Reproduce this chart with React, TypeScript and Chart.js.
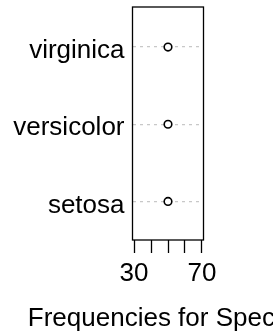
import { useEffect, useRef } from "react";
import { Chart, registerables } from "chart.js";

Chart.register(...registerables);

const categories = ["setosa", "versicolor", "virginica"];
const frequencies = [50, 50, 50];
const xTicks = [30, 40, 50, 60, 70];
const xTickLabels = ["30", "", "", "", "70"];
const xAxisTitle = "Frequencies for Species";

const FAMILY = "'Liberation Sans', Arial, Helvetica, sans-serif";
const FONT_SIZE = 26;

export default function App() {
  const ref = useRef<HTMLCanvasElement>(null);

  useEffect(() => {
    if (!ref.current) return;

    const boxPlugin = {
      id: "boxAndTitle",
      afterDraw(chart: any) {
        const { ctx, chartArea: a } = chart;
        ctx.save();
        ctx.strokeStyle = "#000";
        ctx.lineWidth = 1.3;
        ctx.strokeRect(a.left, a.top, a.right - a.left, a.bottom - a.top);
        ctx.font = `${FONT_SIZE}px ${FAMILY}`;
        ctx.fillStyle = "#000";
        ctx.textAlign = "center";
        ctx.textBaseline = "alphabetic";
        ctx.fillText(xAxisTitle, (a.left + a.right) / 2, a.bottom + 86);
        ctx.restore();
      },
    };

    const chart = new Chart(ref.current, {
      type: "scatter",
      data: {
        datasets: [
          {
            data: categories.map((c, i) => ({ x: frequencies[i], y: i + 1 })),
            pointRadius: 3.8,
            pointBorderWidth: 1.6,
            pointBorderColor: "#000",
            pointBackgroundColor: "#fff",
            showLine: false,
          },
        ],
      },
      options: {
        responsive: false,
        maintainAspectRatio: false,
        animation: false,
        devicePixelRatio: 1,
        layout: { padding: { left: 0, right: 69.5, top: 7, bottom: 0 } },
        plugins: {
          legend: { display: false },
          tooltip: { enabled: false },
        },
        scales: {
          x: {
            type: "linear",
            min: 29.1,
            max: 70.9,
            afterBuildTicks: (s: any) => {
              s.ticks = xTicks.map((v) => ({ value: v }));
            },
            afterFit: (s: any) => {
              s.height = 96;
              s.paddingLeft = 0;
              s.paddingRight = 0;
            },
            border: { display: false },
            grid: {
              drawOnChartArea: false,
              drawTicks: true,
              tickLength: 13,
              tickColor: "#000",
              tickWidth: 1.3,
              color: "#000",
            },
            ticks: {
              autoSkip: false,
              maxRotation: 0,
              padding: 5,
              color: "#000",
              font: { family: FAMILY, size: FONT_SIZE },
              callback: (v: any) => {
                const idx = xTicks.indexOf(Number(v));
                return idx >= 0 ? xTickLabels[idx] : "";
              },
            },
          },
          y: {
            type: "linear",
            min: 0.5,
            max: 3.52,
            afterBuildTicks: (s: any) => {
              s.ticks = categories.map((_, i) => ({ value: i + 1 }));
            },
            afterFit: (s: any) => {
              s.width = 132.5;
              s.paddingTop = 0;
              s.paddingBottom = 0;
            },
            border: { display: false, dash: [3, 4] },
            grid: {
              drawOnChartArea: true,
              drawTicks: false,
              color: "#C8C8C8",
              lineWidth: 1.3,
            },
            ticks: {
              autoSkip: false,
              padding: 8,
              labelOffset: 4,
              color: "#000",
              font: { family: FAMILY, size: FONT_SIZE },
              callback: (v: any) => categories[Number(v) - 1] ?? "",
            },
          },
        },
      },
      plugins: [boxPlugin],
    });

    return () => chart.destroy();
  }, []);

  return (
    <div style={{ position: "absolute", left: 0, top: 0, width: 273, height: 336, background: "#fff" }}>
      <canvas ref={ref} width={273} height={336} style={{ display: "block" }} />
    </div>
  );
}
